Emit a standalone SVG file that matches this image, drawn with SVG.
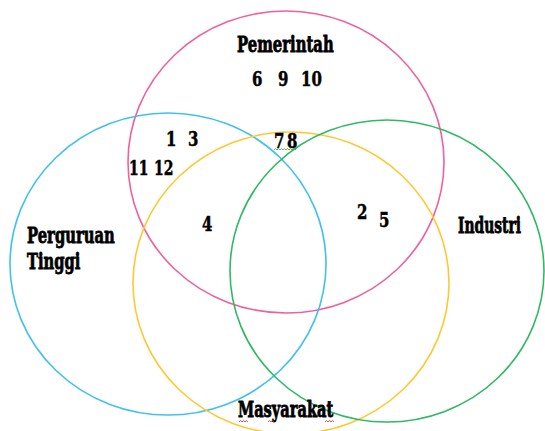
<svg xmlns="http://www.w3.org/2000/svg" width="545" height="431" viewBox="0 0 545 431">
<style>
.c{fill:none;stroke-width:1.6}
.t{font-family:"DejaVu Serif","Liberation Serif",serif;font-weight:bold;fill:#000;stroke:#000;stroke-width:0.5}
.lbl{font-size:23px;stroke-width:0.9}
.num{font-size:20px}
.sq{fill:none;stroke-width:0.8}
</style>
<rect width="545" height="431" fill="#fff"/>
<g id="sets">
<g id="pemerintah"><ellipse class="c" cx="286" cy="162" rx="158" ry="151" stroke="#f0609c"/></g>
<g id="perguruan-tinggi"><ellipse class="c" cx="168" cy="264" rx="158" ry="151" stroke="#40c0f0"/></g>
<g id="masyarakat"><ellipse class="c" cx="291" cy="283" rx="158" ry="151" stroke="#ffc832"/></g>
<g id="industri"><ellipse class="c" cx="387" cy="271" rx="157" ry="151" stroke="#30b865"/></g>
</g>
<g id="labels">
<text class="t lbl" transform="translate(237 52) scale(0.75 1)" textLength="129" lengthAdjust="spacingAndGlyphs">Pemerintah</text>
<text class="t lbl" transform="translate(27 243) scale(0.75 1)" textLength="117" lengthAdjust="spacingAndGlyphs">Perguruan</text>
<text class="t lbl" transform="translate(27 269) scale(0.75 1)" textLength="71" lengthAdjust="spacingAndGlyphs">Tinggi</text>
<text class="t lbl" transform="translate(458 233) scale(0.75 1)" textLength="84" lengthAdjust="spacingAndGlyphs">Industri</text>
<text class="t lbl" transform="translate(238 417) scale(0.75 1)" textLength="127" lengthAdjust="spacingAndGlyphs">Masyarakat</text>
</g>
<g id="numbers">
<text class="t num" transform="translate(252 86) scale(0.75 1)">6</text>
<text class="t num" transform="translate(278 86) scale(0.75 1)">9</text>
<text class="t num" transform="translate(301 86) scale(0.75 1)">10</text>
<text class="t num" transform="translate(166 146) scale(0.75 1)">1</text>
<text class="t num" transform="translate(188 146) scale(0.75 1)">3</text>
<text class="t num" transform="translate(129 175) scale(0.7 1)">11</text>
<text class="t num" transform="translate(154 175) scale(0.7 1)">12</text>
<text class="t num" transform="translate(202 231) scale(0.75 1)">4</text>
<text class="t num" transform="translate(274 148) scale(0.75 1)">7</text>
<text class="t num" transform="translate(287 148) scale(0.75 1)">8</text>
<text class="t num" transform="translate(357 219) scale(0.75 1)">2</text>
<text class="t num" transform="translate(379 227) scale(0.75 1)">5</text>
</g>
<g id="squiggles">
<path class="sq" stroke="#3a9a3a" d="M274 150 l1.5 -1.5 l1.5 1.5 l1.5 -1.5 l1.5 1.5 l1.5 -1.5 l1.5 1.5 l1.5 -1.5 l1.5 1.5 l1.5 -1.5 l1.5 1.5 l1.5 -1.5 l1.5 1.5 l1.5 -1.5 l1.5 1.5 l1.5 -1.5"/>
<path class="sq" stroke="#e02020" d="M239 422 l1.5 -1.5 l1.5 1.5 l1.5 -1.5 l1.5 1.5 l1.5 -1.5 l1.5 1.5"/>
<path class="sq" stroke="#e02020" d="M268 422 l1.5 -1.5 l1.5 1.5 l1.5 -1.5 l1.5 1.5"/>
<path class="sq" stroke="#e02020" d="M325 422 l1.5 -1.5 l1.5 1.5 l1.5 -1.5 l1.5 1.5 l1.5 -1.5 l1.5 1.5"/>
</g>
</svg>
